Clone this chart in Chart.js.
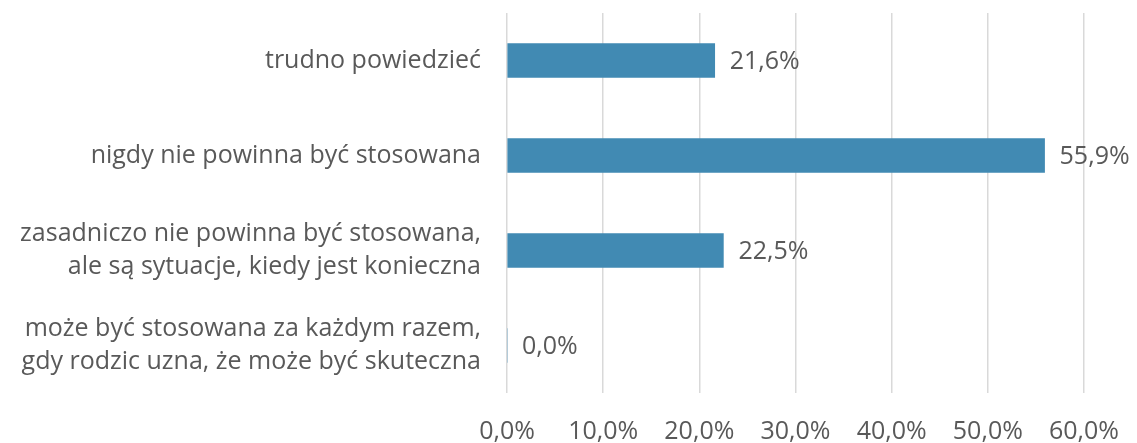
<!DOCTYPE html>
<html>
<head>
<meta charset="utf-8">
<script src="https://cdn.jsdelivr.net/npm/chart.js@4"></script>
<style>
  html, body { margin: 0; padding: 0; background: #fff; }
</style>
</head>
<body>
<canvas id="myChart" width="1137" height="443"></canvas>
<script>
const categories = [
  "trudno powiedzieć",
  "nigdy nie powinna być stosowana",
  ["zasadniczo nie powinna być stosowana,", "ale są sytuacje, kiedy jest konieczna"],
  ["może być stosowana za każdym razem,", "gdy rodzic uzna, że może być skuteczna"]
]
const values = [21.6, 55.9, 22.5, 0.0]
const tickValues = [0, 10, 20, 30, 40, 50, 60]

const fmt = v => v.toFixed(1).replace(".", ",") + "%"
const textColor = "#595959"
const fontFamily = "'Open Sans', 'Noto Sans', sans-serif"
const fontSize = 25

const valueLabels = {
  id: "valueLabels",
  afterDatasetsDraw(chart) {
    const ctx = chart.ctx
    const meta = chart.getDatasetMeta(0)
    ctx.save()
    ctx.font = fontSize + "px " + fontFamily
    ctx.fillStyle = textColor
    ctx.textAlign = "left"
    ctx.textBaseline = "middle"
    meta.data.forEach((bar, i) => {
      ctx.fillText(fmt(values[i]), bar.x + 15, bar.y + 1)
    })
    ctx.restore()
  }
}

const ctx = document.getElementById("myChart").getContext("2d")

new Chart(ctx, {
  type: "bar",
  data: {
    labels: categories,
    datasets: [{
      data: values,
      backgroundColor: "#418AB3",
      barThickness: 34
    }]
  },
  options: {
    indexAxis: "y",
    responsive: false,
    animation: false,
    layout: { padding: { top: 13, right: 53, left: 0, bottom: 0 } },
    plugins: { legend: { display: false }, tooltip: { enabled: false } },
    scales: {
      x: {
        min: 0,
        max: 60,
        afterBuildTicks: axis => { axis.ticks = tickValues.map(v => ({ value: v })) },
        afterFit: axis => {
          axis.height = 50
          axis.paddingLeft = 0
          axis.paddingRight = 0
        },
        grid: { color: "#d9d9d9", lineWidth: 1.5, drawTicks: false },
        border: { display: false },
        ticks: {
          color: textColor,
          font: { family: fontFamily, size: fontSize },
          padding: 24,
          callback: v => fmt(v)
        }
      },
      y: {
        grid: { display: false },
        border: { display: false },
        afterFit: axis => {
          axis.width = 507
          axis.paddingTop = 0
          axis.paddingBottom = 0
        },
        ticks: {
          color: textColor,
          font: { family: fontFamily, size: fontSize, lineHeight: 1.3 },
          padding: 18
        }
      }
    }
  },
  plugins: [valueLabels]
})
</script>
</body>
</html>
